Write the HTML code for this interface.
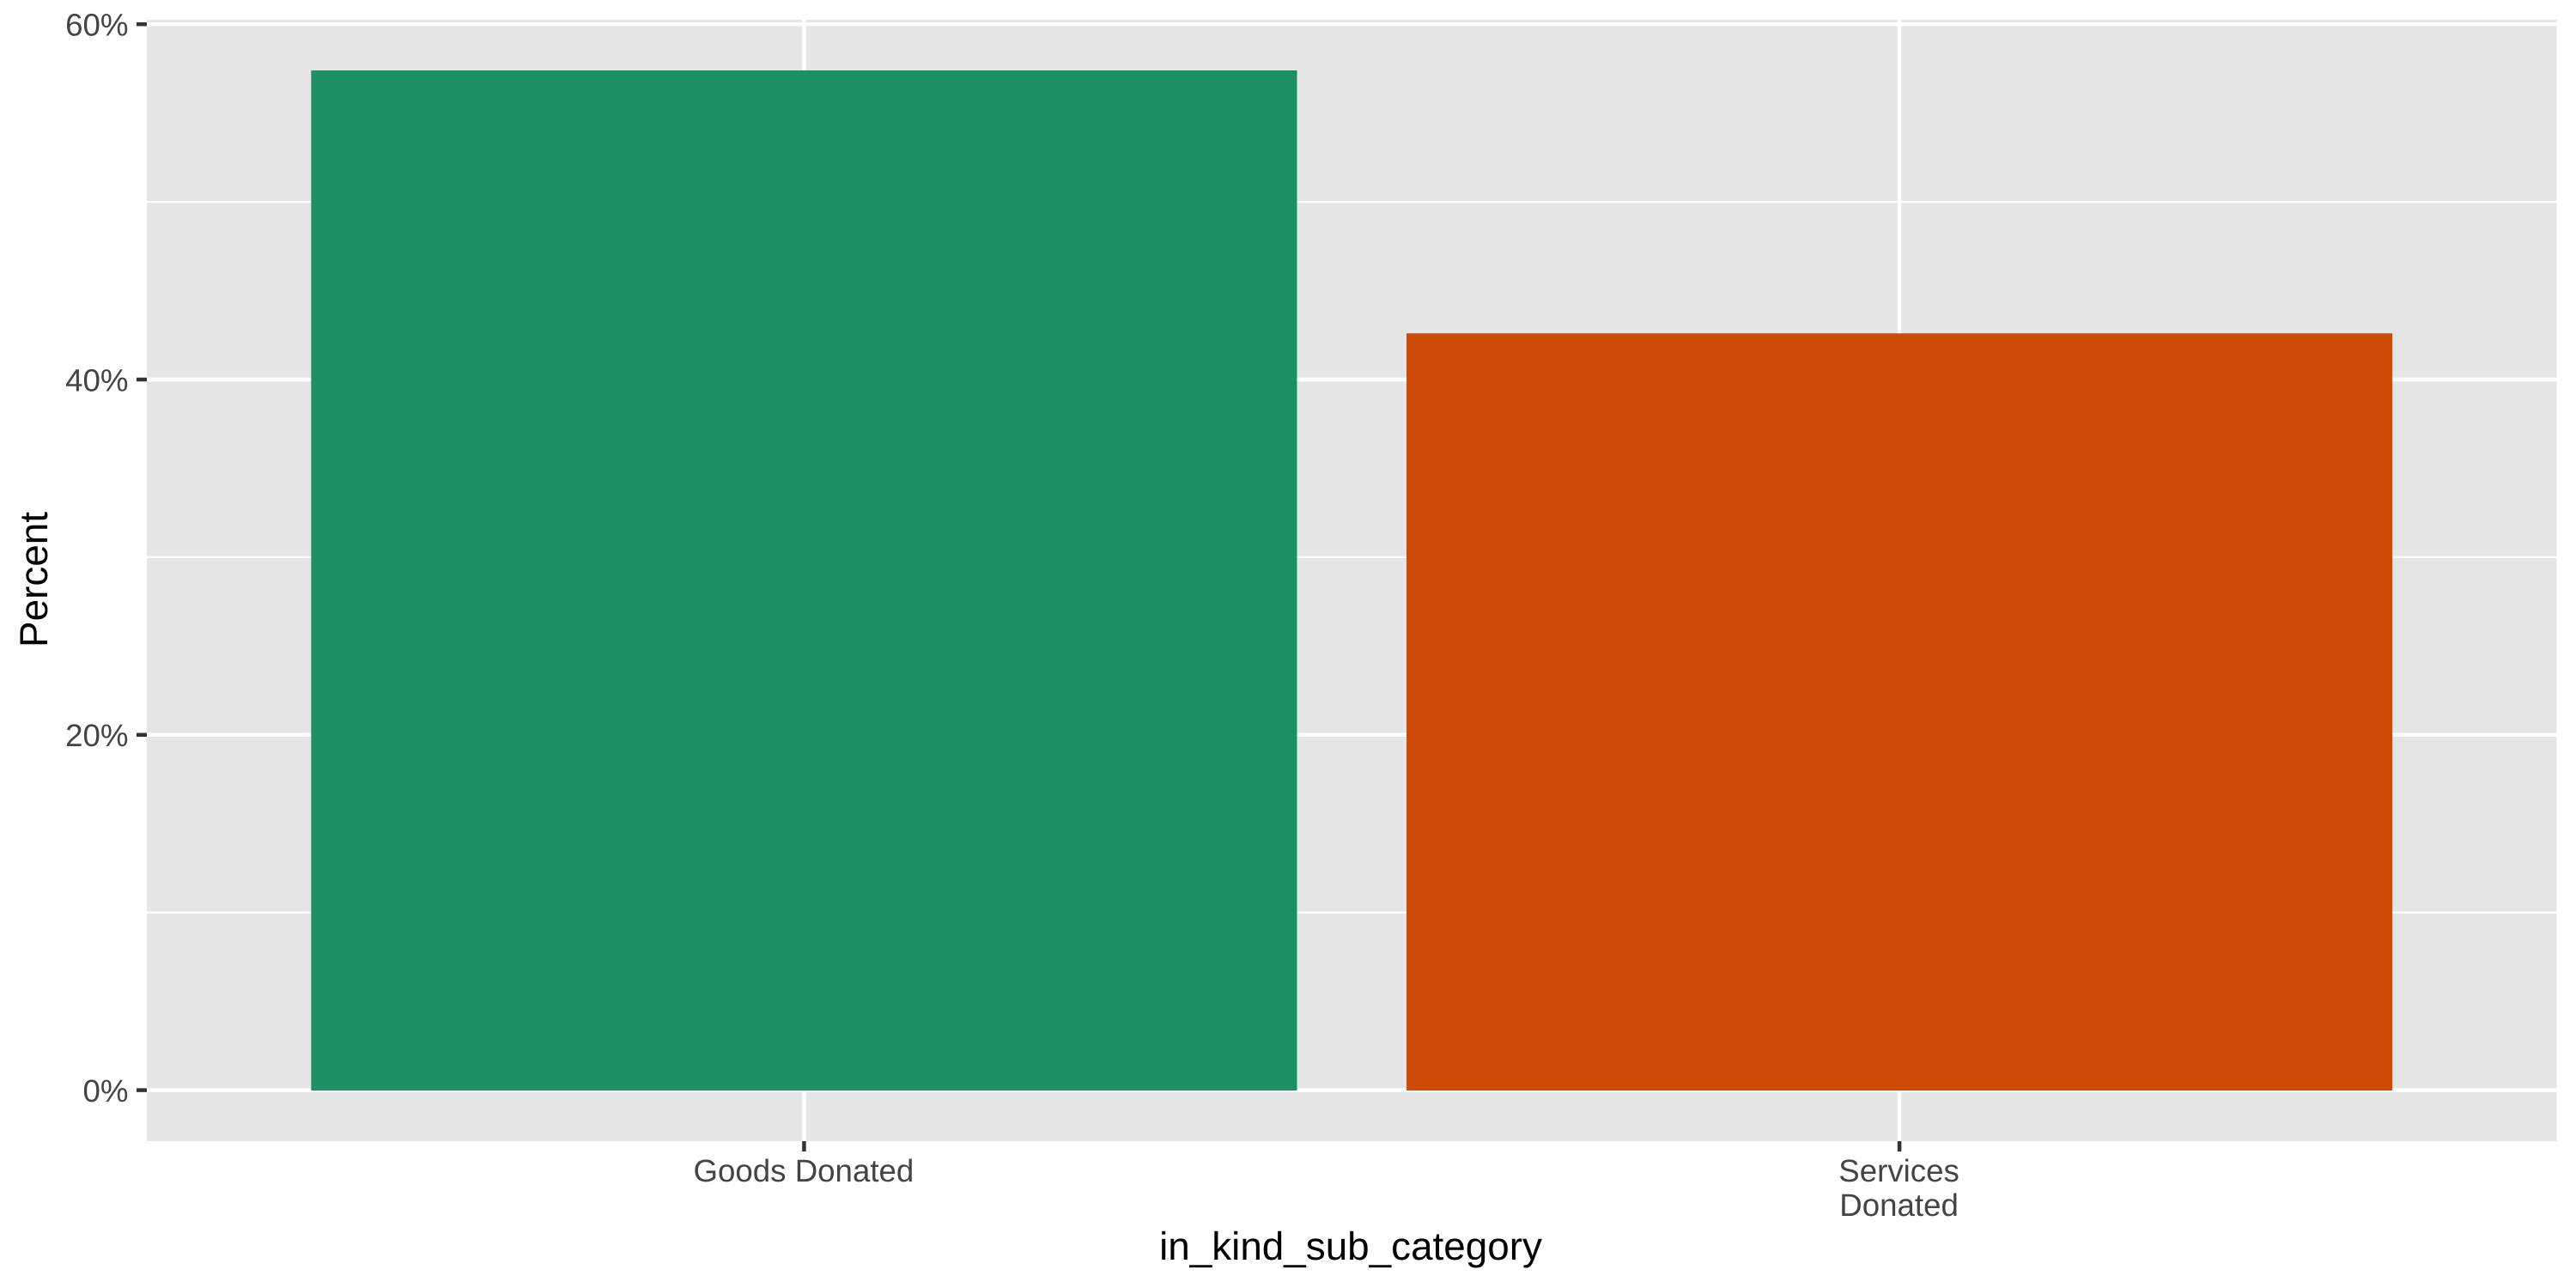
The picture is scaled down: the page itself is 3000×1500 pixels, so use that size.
<!DOCTYPE html>
<html lang="en">
<head>
<meta charset="utf-8">
<title>in_kind_sub_category</title>
<style>
  html, body { margin: 0; padding: 0; background: #ffffff; }
  svg { display: block; text-rendering: geometricPrecision; font-family: "Liberation Sans", Arial, sans-serif; }
</style>
</head>
<body>
<svg id="chart" xmlns="http://www.w3.org/2000/svg" width="3000" height="1500" viewBox="0 0 3000 1500">
  <rect x="0" y="0" width="3000" height="1500" fill="#ffffff"/>
  <rect x="171" y="23" width="2806.5" height="1306" fill="#e5e5e5"/>
  <g id="grid"></g>
  <g id="bars"></g>
  <g id="xaxis"></g>
  <g id="yaxis"></g>
  <text x="1573" y="1467" font-size="45.83" fill="#000000" text-anchor="middle">in_kind_sub_category</text>
  <text transform="translate(55,675) rotate(-90)" font-size="45.83" fill="#000000" text-anchor="middle">Percent</text>
</svg>
<script>
const categories = ["Goods Donated", "Services Donated"];
const categoryLines = [["Goods Donated"], ["Services", "Donated"]];
const percentValues = [57.4, 42.6];
const barColors = ["#1c8f64", "#ce4a08"];
const yTickValues = [0, 20, 40, 60];
const yTickLabels = ["0%", "20%", "40%", "60%"];
const yMinorValues = [10, 30, 50];

const NS = "http://www.w3.org/2000/svg";
const panel = { left: 171, right: 2977.5, top: 23, bottom: 1329 };
const y0Px = 1269.6;
const y60Px = 28.2;
const yPerUnit = (y0Px - y60Px) / 60;
const bandStep = (panel.right - panel.left) / (categories.length - 1 + 1.2);
const barFraction = 0.9;

function yScale(v) { return y0Px - v * yPerUnit; }
function xScale(i) { return panel.left + bandStep * (0.6 + i); }

function make(tag, attrs, parent) {
  const el = document.createElementNS(NS, tag);
  for (const k in attrs) el.setAttribute(k, attrs[k]);
  parent.appendChild(el);
  return el;
}

const gridG = document.getElementById("grid");
const barsG = document.getElementById("bars");
const xG = document.getElementById("xaxis");
const yG = document.getElementById("yaxis");

yMinorValues.forEach(function (v) {
  const py = yScale(v);
  const line = make("line", { x1: panel.left, x2: panel.right, y1: py, y2: py, stroke: "#ffffff", "stroke-width": 2.3 }, gridG);
  
  
});

yTickValues.forEach(function (v, i) {
  const py = yScale(v);
  const line = make("line", { x1: panel.left, x2: panel.right, y1: py, y2: py, stroke: "#ffffff", "stroke-width": 4.5 }, gridG);
  
  

  const tick = make("line", { x1: 159, x2: panel.left, y1: py, y2: py, stroke: "#333333", "stroke-width": 4.5 }, yG);
  
  

  const label = make("text", { x: 149.5, y: py + 13.4, "font-size": 36.67, fill: "#444444", "text-anchor": "end" }, yG);
  
  
  label.textContent = yTickLabels[i];
});

categories.forEach(function (c, i) {
  const cx = xScale(i);

  const vline = make("line", { x1: cx, x2: cx, y1: panel.top, y2: panel.bottom, stroke: "#ffffff", "stroke-width": 4.5 }, gridG);
  
  

  const w = bandStep * barFraction;
  const top = yScale(percentValues[i]);
  const bar = make("rect", { x: cx - w / 2, y: top, width: w, height: y0Px + 0.4 - top, fill: barColors[i] }, barsG);
  
  

  const tick = make("line", { x1: cx, x2: cx, y1: panel.bottom, y2: 1341, stroke: "#333333", "stroke-width": 4.5 }, xG);
  
  

  categoryLines[i].forEach(function (lineText, j) {
    const label = make("text", { x: cx - 0.5, y: 1376 + j * 40, "font-size": 36.67, fill: "#444444", "text-anchor": "middle" }, xG);
    
    
    label.textContent = lineText;
  });
});
</script>
</body>
</html>
